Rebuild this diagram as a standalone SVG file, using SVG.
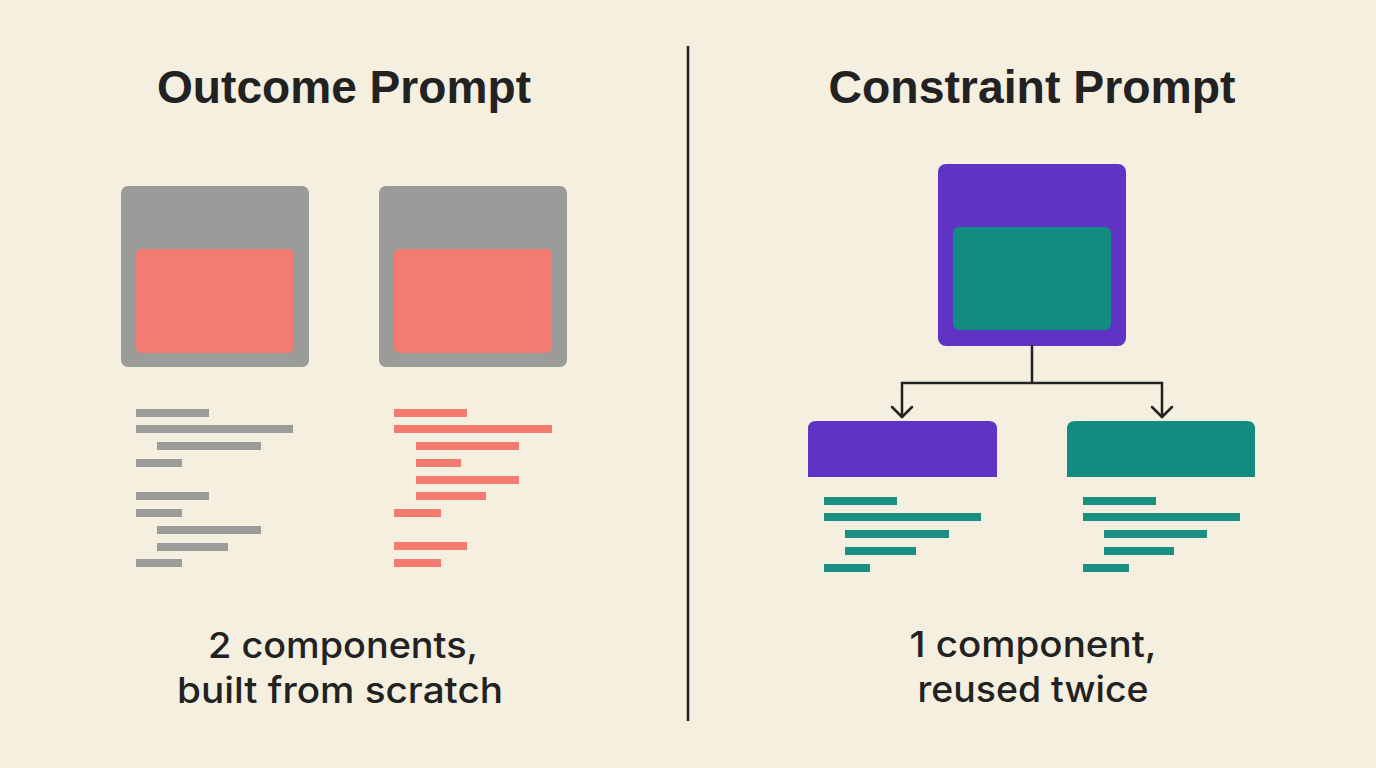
<svg xmlns="http://www.w3.org/2000/svg" width="1376" height="768" viewBox="0 0 1376 768">
<defs>
<style>
.title{font-family:"Liberation Sans",Arial,sans-serif;font-weight:bold;font-size:46px;fill:#222;text-anchor:middle}
.cap{font-family:Inter,"Liberation Sans",sans-serif;font-weight:500;font-size:36px;fill:#222;text-anchor:middle}
.gray{fill:#9b9b99}
.red{fill:#f47b70}
.purple{fill:#5f33c3}
.teal{fill:#128b80}
.tbar{fill:#1b8f84}
.conn{fill:none;stroke:#222;stroke-width:2.5;stroke-linecap:round;stroke-linejoin:round}
</style>
<marker id="vhead" viewBox="0 0 14 24" refX="12" refY="12" markerWidth="14" markerHeight="24" markerUnits="userSpaceOnUse" orient="auto">
<path d="M2,2 L12,12 L2,22" fill="none" stroke="#222" stroke-width="2.5" stroke-linecap="round" stroke-linejoin="round"/>
</marker>
</defs>
<rect width="1376" height="768" fill="#f5efdf"/>

<g id="divider"><line x1="688" y1="46" x2="688" y2="721" stroke="#222" stroke-width="2.5"/></g>

<g id="title-outcome"><text class="title" x="344" y="103" textLength="374" lengthAdjust="spacingAndGlyphs">Outcome Prompt</text></g>
<g id="title-constraint"><text class="title" x="1032" y="103" textLength="407" lengthAdjust="spacingAndGlyphs">Constraint Prompt</text></g>

<g id="outcome-comp-1">
<rect class="gray" x="121" y="186" width="188" height="181" rx="7"/>
<rect class="red" x="136" y="249" width="158" height="104" rx="6"/>
</g>
<g id="outcome-comp-2">
<rect class="gray" x="379" y="186" width="188" height="181" rx="7"/>
<rect class="red" x="394" y="249" width="158" height="104" rx="6"/>
</g>

<g id="outcome-code-1" class="gray">
<rect x="136" y="409" width="73" height="8"/>
<rect x="136" y="425" width="157" height="8"/>
<rect x="157" y="442" width="104" height="8"/>
<rect x="136" y="459" width="46" height="8"/>
<rect x="136" y="492" width="73" height="8"/>
<rect x="136" y="509" width="46" height="8"/>
<rect x="157" y="526" width="104" height="8"/>
<rect x="157" y="543" width="71" height="8"/>
<rect x="136" y="559" width="46" height="8"/>
</g>
<g id="outcome-code-2" class="red">
<rect x="394" y="409" width="73" height="8"/>
<rect x="394" y="425" width="158" height="8"/>
<rect x="416" y="442" width="103" height="8"/>
<rect x="416" y="459" width="45" height="8"/>
<rect x="416" y="476" width="103" height="8"/>
<rect x="416" y="492" width="70" height="8"/>
<rect x="394" y="509" width="47" height="8"/>
<rect x="394" y="542" width="73" height="8"/>
<rect x="394" y="559" width="47" height="8"/>
</g>

<g id="constraint-root">
<rect class="purple" x="938" y="164" width="188" height="182" rx="8"/>
<rect class="teal" x="953" y="227" width="158" height="103" rx="6"/>
</g>

<g id="connectors">
<path class="conn" d="M1032,346 V383 M902,383 H1162"/>
<path class="conn" d="M902,383 V417" marker-end="url(#vhead)"/>
<path class="conn" d="M1162,383 V417" marker-end="url(#vhead)"/>
</g>

<g id="constraint-child-1">
<path class="purple" d="M808,477 V429 Q808,421 816,421 H989 Q997,421 997,429 V477 Z"/>
</g>
<g id="constraint-child-2">
<path class="teal" d="M1067,477 V429 Q1067,421 1075,421 H1247 Q1255,421 1255,429 V477 Z"/>
</g>

<g id="constraint-code-1" class="tbar">
<rect x="824" y="497" width="73" height="8"/>
<rect x="824" y="513" width="157" height="8"/>
<rect x="845" y="530" width="104" height="8"/>
<rect x="845" y="547" width="71" height="8"/>
<rect x="824" y="564" width="46" height="8"/>
</g>
<g id="constraint-code-2" class="tbar">
<rect x="1083" y="497" width="73" height="8"/>
<rect x="1083" y="513" width="157" height="8"/>
<rect x="1104" y="530" width="103" height="8"/>
<rect x="1104" y="547" width="70" height="8"/>
<rect x="1083" y="564" width="46" height="8"/>
</g>

<g id="caption-outcome">
<text class="cap" x="343" y="658" textLength="270" lengthAdjust="spacingAndGlyphs">2 components,</text>
<text class="cap" x="340" y="703" textLength="326" lengthAdjust="spacingAndGlyphs">built from scratch</text>
</g>
<g id="caption-constraint">
<text class="cap" x="1033" y="657" textLength="247" lengthAdjust="spacingAndGlyphs">1 component,</text>
<text class="cap" x="1033" y="702" textLength="231" lengthAdjust="spacingAndGlyphs">reused twice</text>
</g>
</svg>
